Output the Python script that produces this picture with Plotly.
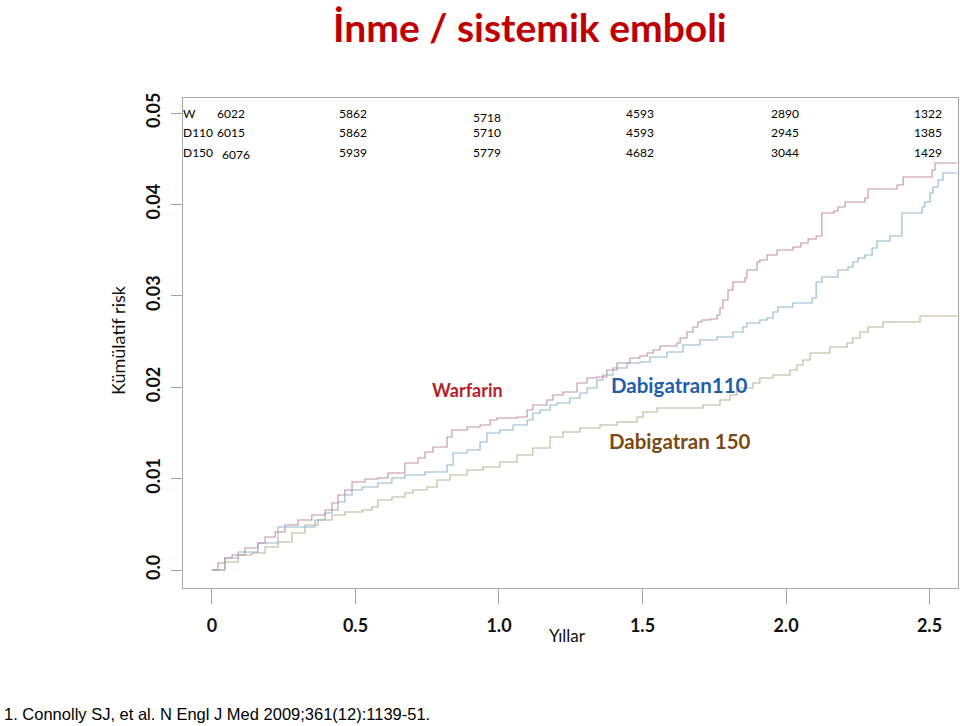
import plotly.graph_objects as go

# ---------------- data ----------------
warfarin_t = [0, 0.021, 0.045, 0.070, 0.115, 0.160, 0.185, 0.220, 0.254, 0.300, 0.348, 0.394, 0.418, 0.439,
              0.463, 0.488, 0.533, 0.578, 0.613, 0.672, 0.718, 0.742, 0.770, 0.819, 0.836, 0.889, 0.934, 0.969,
              0.993, 1.063, 1.098, 1.118, 1.167, 1.188, 1.223, 1.272, 1.307, 1.341, 1.376, 1.411, 1.456, 1.491,
              1.516, 1.537, 1.561, 1.620, 1.631, 1.655, 1.676, 1.693, 1.707, 1.735, 1.760, 1.770, 1.780, 1.798,
              1.815, 1.857, 1.864, 1.899, 1.909, 1.934, 1.969, 2.024, 2.052, 2.077, 2.105, 2.125, 2.167, 2.181,
              2.206, 2.275, 2.286, 2.387, 2.408, 2.509, 2.519, 2.596]
warfarin_risk = [0, 0.00077, 0.00131, 0.00164, 0.00241, 0.00295, 0.00361, 0.00416, 0.00492, 0.00547, 0.00602,
                 0.00656, 0.00733, 0.00821, 0.00875, 0.00963, 0.00996, 0.01007, 0.01061, 0.01171, 0.01225,
                 0.01291, 0.01346, 0.01455, 0.01532, 0.01565, 0.01586, 0.01641, 0.01663, 0.01674, 0.01751,
                 0.01805, 0.01860, 0.01915, 0.01947, 0.02046, 0.02101, 0.02112, 0.02188, 0.02265, 0.02319,
                 0.02341, 0.02374, 0.02407, 0.02451, 0.02484, 0.02538, 0.02604, 0.02659, 0.02713, 0.02735,
                 0.02746, 0.02790, 0.02867, 0.02954, 0.03063, 0.03151, 0.03195, 0.03282, 0.03370, 0.03392,
                 0.03446, 0.03501, 0.03534, 0.03578, 0.03621, 0.03654, 0.03906, 0.03928, 0.03972, 0.04026,
                 0.04070, 0.04168, 0.04212, 0.04300, 0.04376, 0.04453, 0.04453]

d110_t = [0, 0.045, 0.091, 0.160, 0.230, 0.359, 0.394, 0.418, 0.439, 0.463, 0.488, 0.523, 0.578, 0.627, 0.672,
          0.742, 0.819, 0.840, 0.889, 0.934, 0.958, 1.003, 1.049, 1.098, 1.118, 1.143, 1.178, 1.202, 1.247,
          1.282, 1.307, 1.341, 1.362, 1.397, 1.446, 1.491, 1.526, 1.585, 1.641, 1.700, 1.760, 1.815, 1.850,
          1.864, 1.909, 1.934, 1.955, 1.972, 2.024, 2.091, 2.105, 2.125, 2.181, 2.216, 2.233, 2.251, 2.275,
          2.300, 2.317, 2.362, 2.404, 2.474, 2.484, 2.502, 2.512, 2.530, 2.547, 2.596]
d110_risk = [0, 0.00131, 0.00197, 0.00295, 0.00470, 0.00547, 0.00624, 0.00656, 0.00744, 0.00821, 0.00875,
             0.00908, 0.00952, 0.01007, 0.01039, 0.01072, 0.01149, 0.01280, 0.01313, 0.01400, 0.01499, 0.01532,
             0.01586, 0.01641, 0.01718, 0.01751, 0.01805, 0.01827, 0.01882, 0.01937, 0.01991, 0.02079, 0.02133,
             0.02210, 0.02265, 0.02276, 0.02330, 0.02385, 0.02462, 0.02516, 0.02549, 0.02604, 0.02659, 0.02702,
             0.02735, 0.02757, 0.02823, 0.02877, 0.02921, 0.02976, 0.03151, 0.03206, 0.03282, 0.03315, 0.03370,
             0.03414, 0.03446, 0.03523, 0.03600, 0.03654, 0.03906, 0.03972, 0.04026, 0.04125, 0.04190, 0.04267,
             0.04344, 0.04344]

d150_t = [0, 0.045, 0.091, 0.139, 0.185, 0.230, 0.279, 0.324, 0.369, 0.418, 0.463, 0.523, 0.557, 0.578, 0.627,
          0.672, 0.700, 0.749, 0.784, 0.829, 0.889, 0.944, 1.003, 1.063, 1.118, 1.178, 1.223, 1.282, 1.352,
          1.411, 1.481, 1.502, 1.551, 1.711, 1.770, 1.805, 1.829, 1.885, 1.909, 1.955, 2.014, 2.038, 2.059,
          2.084, 2.153, 2.213, 2.233, 2.258, 2.286, 2.338, 2.467, 2.596]
d150_risk = [0, 0.00088, 0.00164, 0.00186, 0.00252, 0.00306, 0.00405, 0.00492, 0.00547, 0.00602, 0.00635,
             0.00656, 0.00689, 0.00766, 0.00799, 0.00842, 0.00875, 0.00908, 0.00985, 0.01039, 0.01094, 0.01127,
             0.01182, 0.01258, 0.01335, 0.01455, 0.01510, 0.01554, 0.01586, 0.01619, 0.01674, 0.01729, 0.01772,
             0.01805, 0.01860, 0.01915, 0.01991, 0.02046, 0.02101, 0.02133, 0.02188, 0.02243, 0.02298, 0.02374,
             0.02440, 0.02484, 0.02538, 0.02604, 0.02659, 0.02713, 0.02779, 0.02779]

risk_times = [0, 0.5, 1.0, 1.5, 2.0, 2.5]
row_labels = ["W", "D110", "D150"]
w_at_risk = [6022, 5862, 5718, 4593, 2890, 1322]
d110_at_risk = [6015, 5862, 5710, 4593, 2945, 1385]
d150_at_risk = [6076, 5939, 5779, 4682, 3044, 1429]

x_tickvals = [0, 0.5, 1.0, 1.5, 2.0, 2.5]
x_ticktext = ["0", "0.5", "1.0", "1.5", "2.0", "2.5"]
y_tickvals = [0, 0.01, 0.02, 0.03, 0.04, 0.05]
y_ticktext = ["0.0", "0.01", "0.02", "0.03", "0.04", "0.05"]

# ---------------- layout helpers ----------------
W, H = 960, 726
L, R, T, B = 183, 958, 98, 588


def px(x):
    return (x - L) / (R - L)


def py(y):
    return (B - y) / (B - T)


FONT = "Lato"
fig = go.Figure()

fig.add_trace(go.Scatter(x=d150_t, y=d150_risk, mode="lines", line=dict(color="#bcb493", width=1.1, shape="hv"),
                         name="Dabigatran 150", hoverinfo="skip"))
fig.add_trace(go.Scatter(x=d110_t, y=d110_risk, mode="lines", line=dict(color="#8db6cf", width=1.1, shape="hv"),
                         name="Dabigatran110", hoverinfo="skip"))
fig.add_trace(go.Scatter(x=warfarin_t, y=warfarin_risk, mode="lines", line=dict(color="#c4909e", width=1.1, shape="hv"),
                         name="Warfarin", hoverinfo="skip"))


def note(x, y, text, size, color="#111", family=FONT, xanchor="center", angle=0, **kw):
    d = dict(x=px(x), y=py(y), xref="paper", yref="paper", text=text, showarrow=False,
             xanchor=xanchor, yanchor="middle", textangle=angle,
             font=dict(family=family, size=size, color=color))
    d.update(kw)
    return d


ann = []
# numbers at risk
row_y = [113, 132, 152]
col_shift = [19, -2, -12, -3, -1, -2]
series_rows = [w_at_risk, d110_at_risk, d150_at_risk]
extra = {(0, 2): (0, 4), (2, 0): (5, 2)}
for r, (lab, vals) in enumerate(zip(row_labels, series_rows)):
    ann.append(note(181, row_y[r], lab, 12, color="#000", xanchor="left"))
    for c, (t, v) in enumerate(zip(risk_times, vals)):
        dx, dy = extra.get((r, c), (0, 0))
        ann.append(dict(x=t, y=py(row_y[r] + dy), xref="x", yref="paper", text=str(v), showarrow=False,
                        xshift=col_shift[c] + dx, xanchor="center", yanchor="middle",
                        font=dict(family=FONT, size=12, color="#000")))

ann += [
    note(467, 390, "<b>Warfarin</b>", 18, color="#b51f2a"),
    note(679, 385, "<b>Dabigatran110</b>", 20.5, color="#1f5ea8"),
    note(680, 441, "<b>Dabigatran 150</b>", 20.5, color="#7b4a14"),
    note(118, 340, "Kümülatif risk", 18, angle=-90),
    note(567, 635, "Yıllar", 17),
    note(530, 27, "<b>İnme / sistemik emboli</b>", 39, color="#c00000"),
    note(2, 714, "1. Connolly SJ, et al. N Engl J Med 2009;361(12):1139-51.", 16.5, color="#000",
         family="Liberation Sans", xanchor="left"),
]

x0, x1 = -0.1010, 2.5993
y0, y1 = (570 - B) / 9140, (570 - T) / 9140

fig.update_layout(
    width=W, height=H,
    margin=dict(l=L, r=W - R, t=T, b=H - B, pad=0),
    paper_bgcolor="white", plot_bgcolor="white",
    showlegend=False,
    annotations=ann,
    xaxis=dict(range=[x0, x1], tickvals=x_tickvals, ticktext=x_ticktext, ticks="outside", ticklen=15,
               tickcolor="#a0a0a0", showgrid=False, zeroline=False, showline=True, linecolor="#a8a8a8",
               linewidth=1, mirror=True, ticklabelstandoff=6,
               tickfont=dict(family=FONT, size=18, color="#111", weight="bold")),
    yaxis=dict(range=[y0, y1], tickvals=y_tickvals, ticktext=y_ticktext, ticks="outside", ticklen=11,
               tickcolor="#a0a0a0", showgrid=False, zeroline=False, showline=True, linecolor="#a8a8a8",
               linewidth=1, mirror=True, tickangle=-90, ticklabelstandoff=4,
               tickfont=dict(family=FONT, size=18, color="#111", weight="bold")),
)

fig.write_html("out.html", config={"displayModeBar": False},
               post_script="document.body.style.margin='0px';document.body.style.overflow='hidden';")
